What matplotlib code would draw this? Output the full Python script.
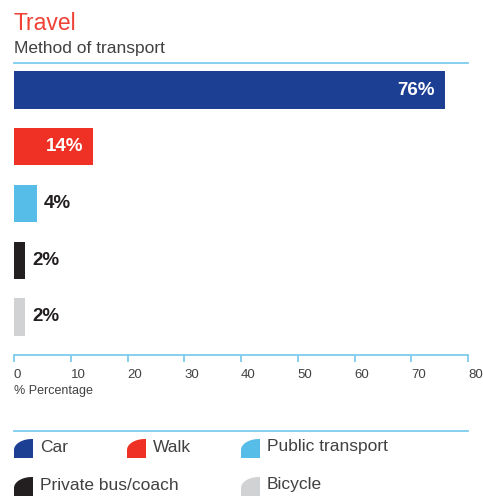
import numpy as np
import matplotlib.pyplot as plt
from matplotlib.path import Path
from matplotlib.patches import PathPatch
from matplotlib.lines import Line2D

# travel survey: method of transport
modes = ["Car", "Walk", "Public transport", "Private bus/coach", "Bicycle"]
shares = [76, 14, 4, 2, 2]
colours = ["#1c3f94", "#ee3124", "#56bde9", "#231f20", "#d1d2d4"]
xticks = [0, 10, 20, 30, 40, 50, 60, 70, 80]

W, H = 483, 496
line_blue = "#7dcbee"
text_grey = "#414042"

plt.rcParams['font.family'] = ['Liberation Sans', 'DejaVu Sans']

fig = plt.figure(figsize=(W / 100, H / 100), dpi=100)
ax = fig.add_axes([14 / W, 1 - 355 / H, 454 / W, (355 - 63) / H])

ypos = np.arange(len(modes))
ax.barh(ypos, shares, height=0.66, color=colours)
ax.set_xlim(0, 80)
ax.set_ylim(4.67, -0.476)

# value labels: inside the long bars, outside the short ones
for y, v in zip(ypos, shares):
    if v >= 10:
        ax.annotate(f"{v}%", (v, y), xytext=(-7.5, 0), textcoords="offset points",
                    ha="right", va="center", color="white", fontsize=13.5,
                    fontweight="bold")
    else:
        ax.annotate(f"{v}%", (v, y), xytext=(5, 0), textcoords="offset points",
                    ha="left", va="center", color="#231f20", fontsize=13.5,
                    fontweight="bold")

for side in ["left", "right"]:
    ax.spines[side].set_visible(False)
ax.spines["top"].set_color(line_blue)
ax.spines["bottom"].set_color(line_blue)
ax.spines["top"].set_linewidth(1.3)
ax.spines["bottom"].set_linewidth(1.3)
ax.set_yticks([])
ax.set_xticks(xticks)
ax.tick_params(axis="x", direction="out", length=5, width=1.3, color=line_blue,
               labelsize=9.5, labelcolor=text_grey, pad=5)
for lbl in ax.get_xticklabels():
    lbl.set_horizontalalignment("left")
ax.set_xlabel("% Percentage", fontsize=9, color=text_grey, loc="left", labelpad=3)

fig.text(14 / W, 1 - 24 / H, "Travel", color="#ef4136", fontsize=16.5,
         va="center", ha="left")
fig.text(14 / W, 1 - 49 / H, "Method of transport", color=text_grey, fontsize=12.5,
         va="center", ha="left")

# legend separator
fig.add_artist(Line2D([14 / W, 468 / W], [1 - 431 / H, 1 - 431 / H],
                      color=line_blue, lw=1.3))


def legend_key(x0, ytop, colour, size=19, rx=18, ry=11):
    # square key with a swept top-left corner
    t = np.linspace(np.pi, np.pi / 2, 24)
    cx, cy = x0 + rx, ytop + ry
    pts = [(x0, ytop + size)]
    pts += [(cx + rx * np.cos(a), cy - ry * np.sin(a)) for a in t]
    pts += [(x0 + size, ytop), (x0 + size, ytop + size), (x0, ytop + size)]
    pts = [(px / W, 1 - py / H) for px, py in pts]
    codes = [Path.MOVETO] + [Path.LINETO] * (len(pts) - 2) + [Path.CLOSEPOLY]
    fig.add_artist(PathPatch(Path(pts, codes), facecolor=colour, edgecolor="none",
                             transform=fig.transFigure))


key_places = [(14, 439), (127, 439), (241, 439), (14, 477), (241, 477)]
for (kx, ky), name, colour in zip(key_places, modes, colours):
    legend_key(kx, ky, colour)
    fig.text((kx + 26) / W, 1 - (ky + 8) / H, name, color=text_grey,
             fontsize=12.5, va="center", ha="left")

fig.savefig("out.png", dpi=100)
